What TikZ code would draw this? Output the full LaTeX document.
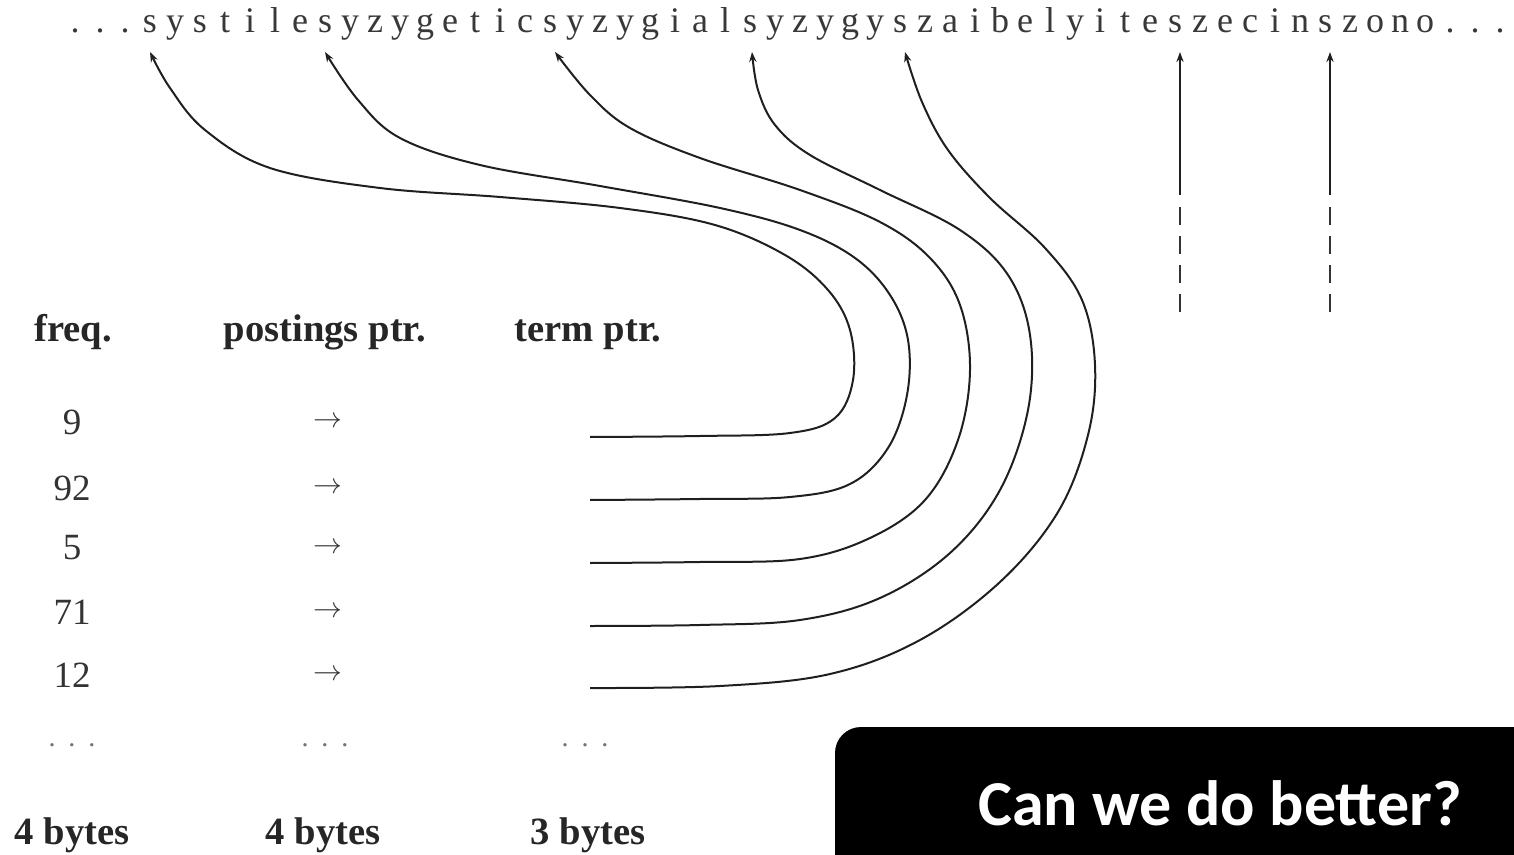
\documentclass[tikz,border=0pt]{standalone}
\usepackage{fontspec}
\setmainfont{Liberation Serif}
\newfontfamily\boxfont{Carlito}
\usetikzlibrary{arrows.meta}
\begin{document}
\begin{tikzpicture}[x=0.5pt,y=-0.5pt,
  letter/.style={anchor=base,inner sep=0pt,text=black!78,font=\fontsize{18}{20}\selectfont},
  hdr/.style={anchor=base,inner sep=0pt,font=\bfseries\fontsize{19.3}{22}\selectfont,text=black!85},
  num/.style={font=\fontsize{18.5}{20}\selectfont,text=black!80},
  parr/.style={font=\fontsize{15}{18}\selectfont,text=black!80},
  dotsstyle/.style={font=\fontsize{14}{16}\selectfont,text=black!55},
  link/.style={line width=1pt,black!88,-{Stealth[length=5pt,width=3.6pt]}},
  dashline/.style={line width=1pt,black!80,dash pattern=on 9pt off 5.5pt},
  qtext/.style={font=\boxfont\bfseries\fontsize{32}{38}\selectfont,text=white},
]
\useasboundingbox (0,0) rectangle (1514,855);
\clip (0,0) rectangle (1514,855);

% top string
\foreach \c [count=\i] in {.,.,.,s,y,s,t,i,l,e,s,y,z,y,g,e,t,i,c,s,y,z,y,g,i,a,l,s,y,z,y,g,y,s,z,a,i,b,e,l,y,i,t,e,s,z,e,c,i,n,s,z,o,n,o,.,.,.}
  \node[letter] (l\i) at (50+25*\i,33) {\c};

% arrow tips below the letters
\coordinate (a1) at ([yshift=-9.5pt]l4.base);
\coordinate (a2) at ([yshift=-9.5pt]l11.base);
\coordinate (a3) at ([xshift=2.5pt,yshift=-9.5pt]l20.base);
\coordinate (a4) at ([xshift=1pt,yshift=-9.5pt]l28.base);
\coordinate (a5) at ([xshift=2.5pt,yshift=-9.5pt]l34.base);
\coordinate (a6) at ([xshift=2.5pt,yshift=-9.5pt]l45.base);
\coordinate (a7) at ([xshift=2.5pt,yshift=-9.5pt]l51.base);

% headers
\node[hdr] (hf) at (73,342) {freq.};
\node[hdr] (hp) at (325,342) {postings ptr.};
\node[hdr] (ht) at (588,342) {term ptr.};

% rows
\foreach \n/\y [count=\k] in {9/422,92/488,5/548,71/612,12/675} {
  \node[num] (f\k) at (72,\y) {\n};
  \node[parr] (p\k) at (328,\y) {$\rightarrow$};
}
\coordinate (t1) at (590,437);
\coordinate (t2) at (590,500);
\coordinate (t3) at (590,563);
\coordinate (t4) at (590,626);
\coordinate (t5) at (590,688);

% ellipses
\node[dotsstyle] (df) at (72,745) {.\kern6.5pt.\kern6.5pt.};
\node[dotsstyle] (dp) at (325,745) {.\kern6.5pt.\kern6.5pt.};
\node[dotsstyle] (dt) at (585,745) {.\kern6.5pt.\kern6.5pt.};

% byte sizes
\node[hdr] (bf) at (72,844) {4 bytes};
\node[hdr] (bp) at (323,844) {4 bytes};
\node[hdr] (bt) at (588,844) {3 bytes};

% curved term pointers
\draw[link] plot[smooth,tension=0.6] coordinates {(t1) (700,436) (790,433) (835,418) (853,380) (850,330) (828,290) (785,255) (715,225) (620,208) (500,197) (380,188) (270,168) (205,130) (170,88) (a1)};
\draw[link] plot[smooth,tension=0.6] coordinates {(t2) (700,499) (790,497) (850,484) (888,448) (907,395) (908,340) (890,295) (855,258) (800,230) (720,208) (600,186) (480,165) (400,138) (358,100) (a2)};
\draw[link] plot[smooth,tension=0.6] coordinates {(t3) (700,562) (800,559) (870,538) (925,500) (958,440) (970,370) (960,305) (930,258) (880,222) (800,190) (700,158) (630,128) (590,95) (a3)};
\draw[link] plot[smooth,tension=0.6] coordinates {(t4) (700,625) (800,620) (880,598) (950,553) (1000,490) (1028,410) (1030,335) (1008,275) (960,230) (880,190) (810,155) (775,125) (758,90) (a4)};
\draw[link] plot[smooth,tension=0.6] coordinates {(t5) (720,686) (830,674) (920,640) (1000,582) (1058,512) (1088,435) (1095,365) (1082,300) (1045,248) (990,198) (948,150) (922,102) (a5)};

% vertical pointers
\coordinate (v6m) at (1180,195);
\coordinate (v6d) at (1180,207);
\coordinate (v6b) at (1180,312);
\coordinate (v7m) at (1330,195);
\coordinate (v7d) at (1330,207);
\coordinate (v7b) at (1330,312);
\draw[link] (v6m) -- (a6);
\draw[link] (v7m) -- (a7);
\draw[dashline] (v6d) -- (v6b);
\draw[dashline] (v7d) -- (v7b);

% question box
\fill[black,rounded corners=13pt] (835,727) rectangle (1570,910);
\node[qtext] (q) at (1220,803) {Can we do better?};
\end{tikzpicture}
\end{document}
